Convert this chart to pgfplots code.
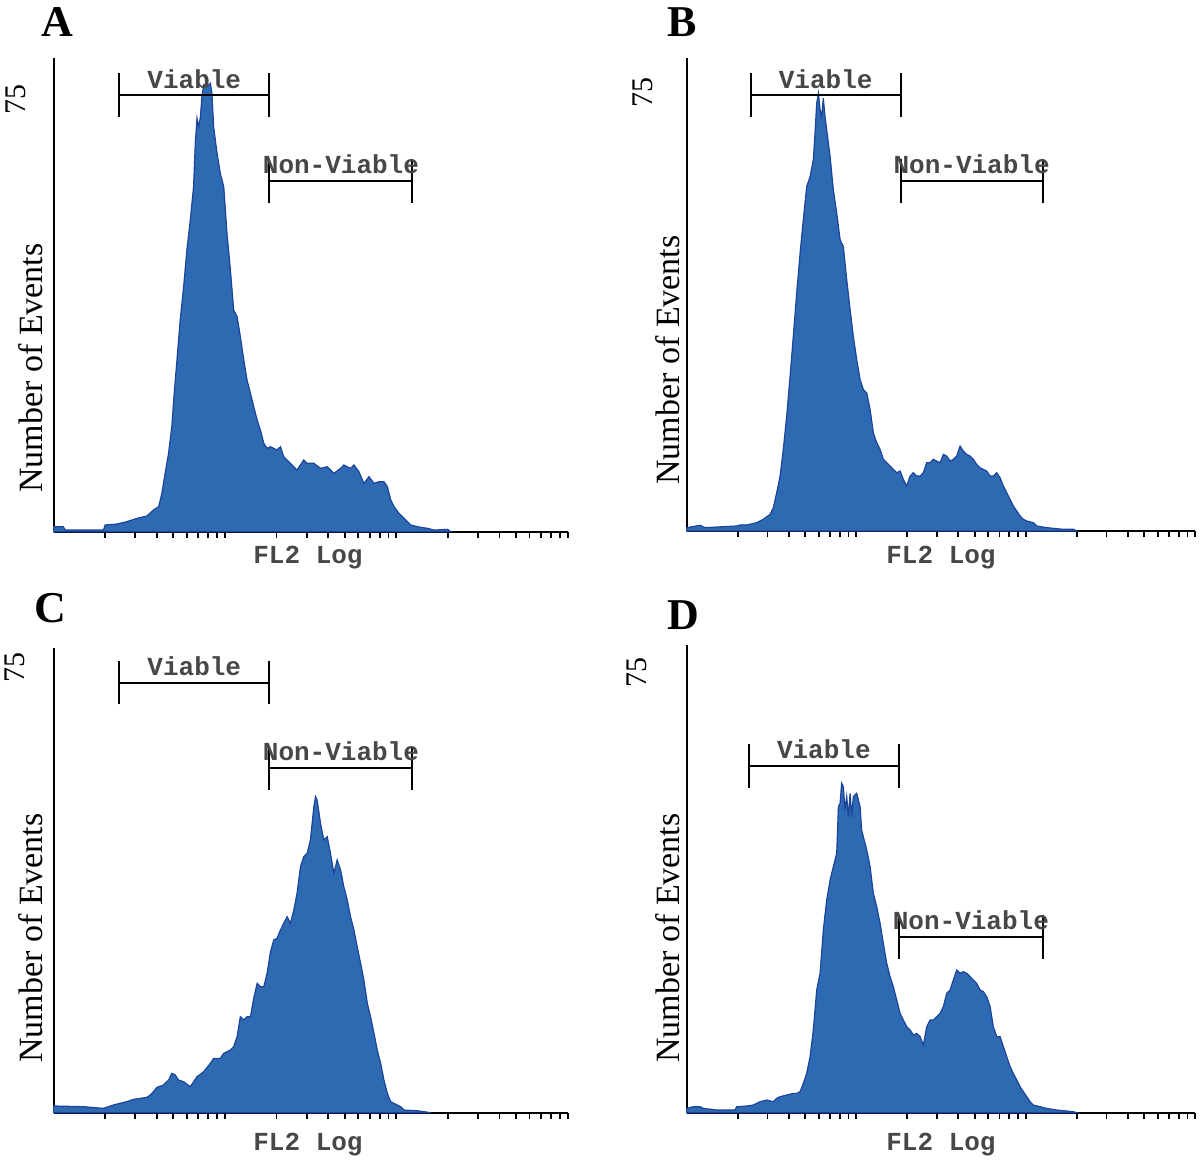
\documentclass[border=0pt]{standalone}
\usepackage{fontspec}
\setmainfont{Liberation Serif}
\newfontfamily\monof{Liberation Mono}
\usepackage{pgfplots}
\pgfplotsset{compat=1.18}
\definecolor{histfill}{RGB}{46,106,178}
\definecolor{histline}{RGB}{28,68,155}
\pgfplotsset{
  flowax/.style={
    anchor=south west, scale only axis,
    xmin=0, xmax=3, ymin=0, ymax=75,
    axis x line*=bottom, axis y line*=left,
    axis line style={line width=1pt,-},
    xtick={0.30103,0.47712,0.60206,0.69897,0.77815,0.84510,0.90309,0.95424,1,
           1.30103,1.47712,1.60206,1.69897,1.77815,1.84510,1.90309,1.95424,2,
           2.30103,2.47712,2.60206,2.69897,2.77815,2.84510,2.90309,2.95424,3},
    xticklabels={}, ytick=\empty,
    tick align=outside, major tick length=3.2pt,
    every tick/.style={line width=0.9pt,black},
    clip=false,
  },
  hist/.style={fill=histfill, draw=histline, line width=0.6pt},
}
\newcommand{\gate}[5]{% x1, x2, y, cap half, label
  \draw[line width=1pt] (axis cs:#1,#3) -- (axis cs:#2,#3);
  \draw[line width=1pt] (axis cs:#1,#3-#4) -- (axis cs:#1,#3+#4);
  \draw[line width=1pt] (axis cs:#2,#3-#4) -- (axis cs:#2,#3+#4);
  \node[anchor=base, inner sep=0pt, font=\monof\bfseries\fontsize{13}{14}\selectfont, text=black!72] at (axis cs:{(#1+#2)/2},#3) [yshift=3.6pt] {#5};
}
\begin{document}
\begin{tikzpicture}
\path[use as bounding box] (0,0) rectangle (600pt,580pt);

% ---------- A ----------
\begin{axis}[flowax, at={(26.8pt,314.15pt)}, width=257pt, height=236.85pt]
\addplot[hist] coordinates {
(0,0.79)(0.057,0.79)(0.067,0.26)(0.291,0.26)(0.301,1.06)(0.369,1.21)(0.427,1.58)(0.486,2.11)
(0.544,2.48)(0.583,3.43)(0.613,3.96)(0.632,6.07)(0.651,9.24)(0.671,12.40)(0.690,16.63)(0.704,21.90)
(0.720,27.18)(0.739,33.52)(0.759,38.79)(0.778,44.60)(0.798,49.35)(0.817,54.63)(0.827,61.49)(0.837,65.45)
(0.846,64.13)(0.856,65.45)(0.866,68.88)(0.876,70.73)(0.895,70.46)(0.915,70.99)(0.924,69.41)(0.934,64.13)
(0.954,59.91)(0.973,56.74)(0.993,54.63)(1.012,47.24)(1.032,41.43)(1.051,35.10)(1.071,34.04)(1.090,30.88)
(1.110,27.18)(1.129,24.01)(1.149,21.90)(1.168,19.79)(1.188,17.68)(1.207,16.10)(1.227,13.99)(1.246,13.20)
(1.266,13.46)(1.304,12.93)(1.324,13.46)(1.343,11.88)(1.382,10.82)(1.421,9.76)(1.460,11.35)(1.480,10.82)
(1.519,10.82)(1.558,10.03)(1.597,10.29)(1.636,9.24)(1.675,10.03)(1.694,10.56)(1.733,10.03)(1.753,10.56)
(1.782,9.50)(1.811,7.65)(1.841,8.71)(1.870,7.65)(1.899,7.92)(1.928,7.92)(1.948,7.13)(1.968,5.01)
(1.987,3.96)(2.016,2.90)(2.046,2.11)(2.084,1.06)(2.123,0.79)(2.182,0.53)(2.221,0.26)(2.299,0.37)(2.318,0)
} \closedcycle;
\gate{0.382}{1.26}{69.1}{3.5}{Viable}
\gate{1.26}{2.094}{55.5}{3.5}{Non-Viable}
\end{axis}

% ---------- B ----------
\begin{axis}[flowax, at={(343.35pt,314.5pt)}, width=254.25pt, height=236.5pt]
\addplot[hist] coordinates {
(0,0.53)(0.079,0.90)(0.108,0.53)(0.295,0.79)(0.315,0.95)(0.354,0.95)(0.413,1.32)(0.452,1.85)
(0.492,2.64)(0.511,3.69)(0.531,6.07)(0.551,8.71)(0.570,12.93)(0.590,18.21)(0.610,24.54)(0.629,30.88)
(0.649,37.74)(0.669,44.07)(0.688,49.35)(0.708,54.63)(0.728,56.21)(0.747,58.85)(0.757,63.07)(0.767,67.82)
(0.777,69.41)(0.787,66.77)(0.796,65.71)(0.806,68.61)(0.816,65.71)(0.826,63.60)(0.846,59.38)(0.865,54.10)
(0.885,50.40)(0.905,46.18)(0.924,45.13)(0.944,39.85)(0.964,35.10)(0.983,30.88)(1.003,27.18)(1.023,24.01)
(1.042,22.43)(1.062,21.90)(1.082,19.26)(1.101,15.57)(1.121,13.99)(1.141,12.93)(1.160,11.35)(1.180,10.82)
(1.200,10.29)(1.219,9.76)(1.239,9.24)(1.259,9.50)(1.278,8.18)(1.298,7.13)(1.318,8.71)(1.337,9.24)
(1.357,8.71)(1.377,8.71)(1.396,9.24)(1.416,10.82)(1.436,10.82)(1.455,11.35)(1.475,11.08)(1.495,10.82)
(1.514,12.14)(1.534,11.88)(1.554,11.08)(1.573,11.35)(1.593,11.88)(1.613,13.46)(1.632,12.67)(1.652,12.14)
(1.672,11.88)(1.691,11.35)(1.711,10.56)(1.731,10.03)(1.750,9.76)(1.770,9.50)(1.790,8.71)(1.809,8.71)
(1.829,9.24)(1.849,8.44)(1.868,7.13)(1.888,6.07)(1.908,5.01)(1.927,3.96)(1.947,3.17)(1.967,2.38)
(1.986,1.85)(2.006,1.58)(2.045,1.32)(2.065,0.79)(2.124,0.53)(2.222,0.26)(2.281,0.26)(2.301,0)
} \closedcycle;
\gate{0.378}{1.262}{69.1}{3.5}{Viable}
\gate{1.262}{2.10}{55.5}{3.5}{Non-Viable}
\end{axis}

% ---------- C ----------
\begin{axis}[flowax, at={(26.8pt,23.65pt)}, width=257pt, height=232.35pt]
\addplot[hist] coordinates {
(0,1.08)(0.174,0.97)(0.291,0.70)(0.349,1.24)(0.388,1.51)(0.427,1.78)(0.466,2.15)(0.505,2.31)
(0.544,2.47)(0.564,2.85)(0.583,3.39)(0.603,4.09)(0.642,4.47)(0.671,5.27)(0.690,6.35)(0.710,6.08)
(0.729,5.27)(0.759,5.00)(0.798,4.20)(0.837,5.81)(0.876,6.62)(0.915,7.96)(0.934,8.77)(0.973,8.77)
(0.993,9.58)(1.032,10.11)(1.051,10.65)(1.071,12.27)(1.090,15.49)(1.110,14.96)(1.129,15.49)(1.149,15.49)
(1.168,18.45)(1.188,20.87)(1.207,20.34)(1.227,20.34)(1.246,22.49)(1.266,25.99)(1.285,27.87)(1.304,28.14)
(1.324,29.48)(1.343,30.56)(1.363,31.63)(1.382,30.56)(1.402,32.71)(1.421,35.40)(1.441,39.70)(1.460,41.32)
(1.480,41.86)(1.499,44.01)(1.519,49.39)(1.529,51.00)(1.538,50.46)(1.558,46.70)(1.577,44.01)(1.597,44.55)
(1.616,41.86)(1.636,38.63)(1.655,40.78)(1.675,39.17)(1.694,36.48)(1.714,34.32)(1.733,31.63)(1.753,29.48)
(1.772,26.79)(1.792,24.10)(1.811,21.41)(1.831,17.65)(1.850,15.49)(1.870,12.80)(1.889,10.11)(1.909,7.96)
(1.928,5.27)(1.948,3.12)(1.967,1.78)(1.987,1.51)(2.006,1.24)(2.026,0.97)(2.045,0.43)(2.123,0.32)
(2.162,0.16)(2.201,0)
} \closedcycle;
\gate{0.382}{1.26}{69.4}{3.5}{Viable}
\gate{1.26}{2.094}{55.6}{3.5}{Non-Viable}
\end{axis}

% ---------- D ----------
\begin{axis}[flowax, at={(343.35pt,23.65pt)}, width=254.25pt, height=233.85pt]
\addplot[hist] coordinates {
(0,0.69)(0.039,0.96)(0.079,0.96)(0.098,0.69)(0.177,0.43)(0.285,0.43)(0.295,0.96)(0.354,1.07)
(0.393,1.23)(0.433,1.76)(0.472,2.03)(0.511,1.76)(0.531,2.30)(0.551,2.57)(0.590,2.83)(0.629,3.10)
(0.649,3.10)(0.669,3.37)(0.688,4.70)(0.708,6.31)(0.728,8.98)(0.747,13.26)(0.767,19.67)(0.787,22.35)
(0.806,29.30)(0.826,34.11)(0.846,37.31)(0.865,39.45)(0.885,41.59)(0.895,49.08)(0.905,49.61)(0.914,52.82)
(0.924,52.28)(0.934,48.54)(0.944,50.68)(0.954,47.47)(0.964,51.21)(0.973,47.47)(0.983,50.68)(1.003,51.21)
(1.023,49.08)(1.032,45.33)(1.042,44.26)(1.062,42.13)(1.082,39.45)(1.101,35.18)(1.121,33.04)(1.141,30.37)
(1.160,27.16)(1.180,23.95)(1.200,21.81)(1.219,20.21)(1.239,18.07)(1.259,15.93)(1.278,14.86)(1.298,13.79)
(1.318,13.26)(1.337,12.46)(1.357,12.72)(1.377,12.19)(1.396,10.85)(1.416,13.79)(1.436,14.86)(1.455,14.86)
(1.475,15.40)(1.495,15.93)(1.514,17.00)(1.534,19.14)(1.554,19.67)(1.573,21.28)(1.593,22.88)(1.613,22.35)
(1.632,22.61)(1.652,22.35)(1.672,21.81)(1.691,21.28)(1.711,20.74)(1.731,19.67)(1.750,19.41)(1.770,18.60)
(1.790,17.00)(1.809,13.79)(1.829,12.19)(1.849,12.19)(1.868,10.59)(1.888,8.98)(1.908,7.38)(1.927,6.31)
(1.947,5.24)(1.967,4.17)(1.986,3.37)(2.006,2.57)(2.026,1.76)(2.045,1.23)(2.084,0.96)(2.124,0.69)
(2.183,0.43)(2.281,0.16)(2.301,0)
} \closedcycle;
\gate{0.365}{1.253}{55.6}{3.5}{Viable}
\gate{1.253}{2.10}{28.2}{3.5}{Non-Viable}
\end{axis}

% ---------- panel letters ----------
\begin{scope}[every node/.style={font=\bfseries\fontsize{22}{24}\selectfont, inner sep=0pt}]
\node at (28.5pt,569pt) {A};
\node at (341pt,569pt) {B};
\node at (25pt,276pt) {C};
\node at (341.5pt,272.5pt) {D};
\end{scope}

% ---------- 75 labels ----------
\begin{scope}[every node/.style={font=\fontsize{15}{16}\selectfont, inner sep=0pt, rotate=90}]
\node at (7.7pt,530pt) {75};
\node at (321.5pt,533.5pt) {75};
\node at (7.5pt,246pt) {75};
\node at (318.5pt,243.5pt) {75};
\end{scope}

% ---------- y labels ----------
\begin{scope}[every node/.style={font=\fontsize{17}{18}\selectfont, inner sep=0pt, rotate=90}]
\node at (15.4pt,396pt) {Number of Events};
\node at (334pt,400pt) {Number of Events};
\node at (15.4pt,111pt) {Number of Events};
\node at (334pt,111pt) {Number of Events};
\end{scope}

% ---------- x labels ----------
\begin{scope}[every node/.style={font=\monof\bfseries\fontsize{13}{14}\selectfont, inner sep=0pt, text=black!72}]
\node at (154pt,301pt) {FL2 Log};
\node at (470.5pt,301pt) {FL2 Log};
\node at (154pt,7.5pt) {FL2 Log};
\node at (470.5pt,7.5pt) {FL2 Log};
\end{scope}
\end{tikzpicture}
\end{document}
